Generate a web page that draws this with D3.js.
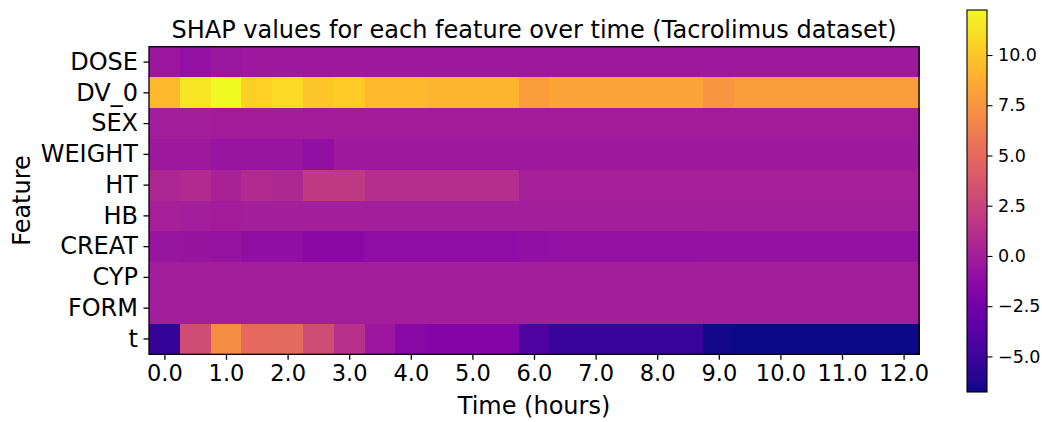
<!DOCTYPE html>
<html>
<head>
<meta charset="utf-8">
<script src="https://cdn.jsdelivr.net/npm/d3@7"></script>
<style>
  body { margin: 0; background: #fff; }
  svg { display: block; font-family: "DejaVu Sans", sans-serif; }
</style>
</head>
<body>
<svg id="chart" width="1042" height="422"></svg>
<script>
// Features (rows, top to bottom) and sampling times in hours (columns)
const features = ["DOSE", "DV_0", "SEX", "WEIGHT", "HT", "HB", "CREAT", "CYP", "FORM", "t"];
const times = [0, 0.5, 1, 1.5, 2, 2.5, 3, 3.5, 4, 4.5, 5, 5.5, 6, 6.5, 7, 7.5, 8, 8.5, 9, 9.5, 10, 10.5, 11, 11.5, 12];
const xTicks = [0, 1, 2, 3, 4, 5, 6, 7, 8, 9, 10, 11, 12];
const colorbarTicks = [-5, -2.5, 0, 2.5, 5, 7.5, 10];

// Mean SHAP value of each feature at each time point
const shapDOSE   = [-0.4, -0.9, -0.5, -0.35, -0.3, -0.3, -0.3, -0.3, -0.3, -0.3, -0.3, -0.3, -0.35, -0.35, -0.35, -0.35, -0.35, -0.35, -0.35, -0.35, -0.35, -0.35, -0.35, -0.35, -0.35];
const shapDV0    = [9.3, 11.3, 12.24, 10.4, 10.9, 9.9, 10.2, 9.3, 9.3, 9.1, 9.1, 9.1, 7.9, 8.25, 8.25, 8.25, 8.25, 8.25, 7.5, 7.9, 7.9, 7.9, 7.9, 7.9, 7.9];
const shapSEX    = [0.0, 0.0, -0.1, -0.1, -0.1, -0.1, -0.1, -0.1, -0.1, -0.1, -0.1, -0.1, -0.1, -0.1, -0.1, -0.1, -0.1, -0.1, -0.1, -0.1, -0.1, -0.1, -0.1, -0.1, -0.1];
const shapWEIGHT = [-0.35, -0.35, -0.6, -0.6, -0.6, -0.95, -0.3, -0.3, -0.3, -0.3, -0.3, -0.3, -0.3, -0.3, -0.3, -0.3, -0.3, -0.3, -0.3, -0.3, -0.3, -0.3, -0.3, -0.3, -0.3];
const shapHT     = [0.6, 0.85, 0.3, 0.85, 0.7, 1.9, 1.9, 1.1, 1.1, 1.1, 1.1, 1.1, 0.1, 0.1, 0.1, 0.1, 0.1, 0.1, 0.1, 0.1, 0.1, 0.1, 0.1, 0.1, 0.1];
const shapHB     = [0.1, 0.05, -0.15, 0.05, 0.05, 0.05, 0.05, 0.05, 0.05, 0.05, 0.05, 0.05, 0.0, 0.0, 0.0, 0.0, 0.0, 0.0, 0.0, 0.0, 0.0, 0.0, 0.0, 0.0, 0.0];
const shapCREAT  = [-0.6, -0.65, -0.75, -1.0, -1.0, -1.35, -1.35, -1.1, -1.1, -1.1, -1.1, -1.1, -0.95, -0.9, -0.9, -0.9, -0.9, -0.9, -0.8, -0.8, -0.8, -0.8, -0.8, -0.8, -0.8];
const shapCYP    = [0.0, 0.0, 0.0, 0.0, 0.0, 0.0, 0.0, 0.0, 0.0, 0.0, 0.0, 0.0, 0.0, 0.0, 0.0, 0.0, 0.0, 0.0, 0.0, 0.0, 0.0, 0.0, 0.0, 0.0, 0.0];
const shapFORM   = [0.0, 0.0, 0.0, 0.0, 0.0, 0.0, 0.0, 0.0, 0.0, 0.0, 0.0, 0.0, 0.0, 0.0, 0.0, 0.0, 0.0, 0.0, 0.0, 0.0, 0.0, 0.0, 0.0, 0.0, 0.0];
const shapT      = [-5.4, 3.1, 7.1, 5.0, 4.9, 3.1, 1.3, -0.4, -1.45, -1.7, -1.7, -1.7, -4.3, -5.25, -5.25, -5.25, -5.25, -5.25, -6.6, -6.77, -6.77, -6.77, -6.77, -6.77, -6.77];

const rows = [shapDOSE, shapDV0, shapSEX, shapWEIGHT, shapHT, shapHB, shapCREAT, shapCYP, shapFORM, shapT];

// Flatten into cells for drawing
const cells = [];
rows.forEach((vals, i) => vals.forEach((v, j) => cells.push({ feature: features[i], time: times[j], value: v })));

const svg = d3.select("#chart");

// Heatmap frame
const plot = { left: 149, right: 919, top: 46.7, bottom: 354.3 };
const halfStep = (times[1] - times[0]) / 2;

const x = d3.scaleLinear()
  .domain([times[0] - halfStep, times[times.length - 1] + halfStep])
  .range([plot.left, plot.right]);

const y = d3.scaleBand()
  .domain(features)
  .range([plot.top, plot.bottom]);

const extent = d3.extent(cells, d => d.value);
const color = d3.scaleSequential(d3.interpolatePlasma).domain(extent);

// Cells
svg.append("g")
  .attr("shape-rendering", "crispEdges")
  .selectAll("rect")
  .data(cells)
  .join("rect")
  .attr("x", d => x(d.time - halfStep))
  .attr("y", d => y(d.feature))
  .attr("width", d => x(d.time + halfStep) - x(d.time - halfStep) + 0.5)
  .attr("height", y.bandwidth() + 0.5)
  .attr("fill", d => color(d.value));

// Axes
const xAxis = svg.append("g")
  .attr("transform", `translate(0,${plot.bottom})`)
  .call(d3.axisBottom(x).tickValues(xTicks).tickFormat(d3.format(".1f")).tickSize(5.5).tickSizeOuter(0));
xAxis.select(".domain").remove();
xAxis.selectAll(".tick line").attr("stroke", "#000").attr("stroke-width", 1.3);
xAxis.selectAll(".tick text")
  .attr("y", 11)
  .attr("font-size", "22.5px")
  .attr("font-family", "DejaVu Sans, sans-serif")
  .attr("fill", "#000");

const yAxis = svg.append("g")
  .attr("transform", `translate(${plot.left},0)`)
  .call(d3.axisLeft(y).tickSize(5.5).tickSizeOuter(0));
yAxis.select(".domain").remove();
yAxis.selectAll(".tick line").attr("stroke", "#000").attr("stroke-width", 1.3);
yAxis.selectAll(".tick text")
  .attr("x", -11)
  .attr("font-size", "24px")
  .attr("font-family", "DejaVu Sans, sans-serif")
  .attr("fill", "#000");

// Axes border
svg.append("rect")
  .attr("x", plot.left).attr("y", plot.top)
  .attr("width", plot.right - plot.left).attr("height", plot.bottom - plot.top)
  .attr("fill", "none").attr("stroke", "#000").attr("stroke-width", 1.3);

// Title and axis labels
svg.append("text")
  .attr("x", (plot.left + plot.right) / 2).attr("y", 38)
  .attr("text-anchor", "middle").attr("font-size", "24px")
  .text("SHAP values for each feature over time (Tacrolimus dataset)");

svg.append("text")
  .attr("x", (plot.left + plot.right) / 2).attr("y", 414)
  .attr("text-anchor", "middle").attr("font-size", "24px")
  .text("Time (hours)");

svg.append("text")
  .attr("transform", `translate(30,${(plot.top + plot.bottom) / 2}) rotate(-90)`)
  .attr("text-anchor", "middle").attr("font-size", "24px")
  .text("Feature");

// Colorbar
const cb = { x: 967, width: 20, top: 10, bottom: 392 };
const cbScale = d3.scaleLinear().domain(extent).range([cb.bottom, cb.top]);

const defs = svg.append("defs");
const grad = defs.append("linearGradient")
  .attr("id", "plasmaGrad")
  .attr("x1", 0).attr("y1", 1).attr("x2", 0).attr("y2", 0);
d3.range(0, 1.0001, 0.02).forEach(t => {
  grad.append("stop").attr("offset", t).attr("stop-color", d3.interpolatePlasma(t));
});

svg.append("rect")
  .attr("x", cb.x).attr("y", cb.top)
  .attr("width", cb.width).attr("height", cb.bottom - cb.top)
  .attr("fill", "url(#plasmaGrad)")
  .attr("stroke", "#000").attr("stroke-width", 1.1);

const minusFmt = v => d3.format(".1f")(v).replace("-", "\u2212");
const cbAxis = svg.append("g")
  .attr("transform", `translate(${cb.x + cb.width},0)`)
  .call(d3.axisRight(cbScale).tickValues(colorbarTicks).tickFormat(minusFmt).tickSize(5.5).tickSizeOuter(0));
cbAxis.select(".domain").remove();
cbAxis.selectAll(".tick line").attr("stroke", "#000").attr("stroke-width", 1.1);
cbAxis.selectAll(".tick text")
  .attr("x", 11)
  .attr("font-size", "17.5px")
  .attr("font-family", "DejaVu Sans, sans-serif")
  .attr("fill", "#000");
</script>
</body>
</html>
